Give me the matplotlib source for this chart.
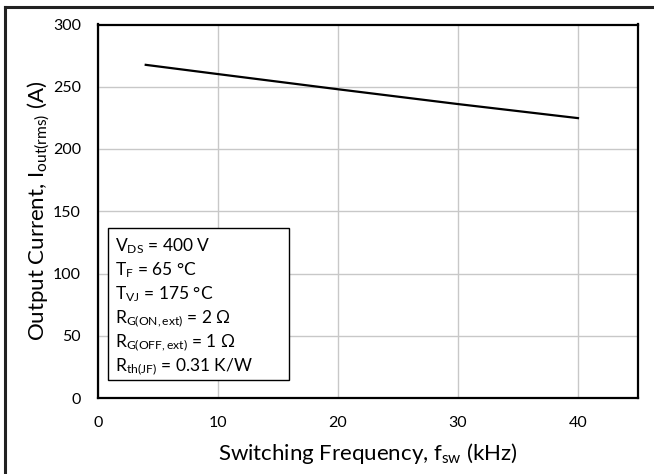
import matplotlib
matplotlib.use("Agg")
import matplotlib.pyplot as plt
from matplotlib.lines import Line2D
from matplotlib.patches import Rectangle

plt.rcParams['font.family'] = ['Lato', 'DejaVu Sans']
plt.rcParams['mathtext.fontset'] = 'custom'
plt.rcParams['mathtext.rm'] = 'Lato'
plt.rcParams['mathtext.it'] = 'Lato'
plt.rcParams['mathtext.default'] = 'rm'

freq_khz = [4, 10, 20, 30, 40]
current_a = [267.6, 260.2, 248, 236.1, 224.8]
x_ticks = [0, 10, 20, 30, 40]
y_ticks = [0, 50, 100, 150, 200, 250, 300]
conditions = [
    r"V$_{\mathrm{DS}}$ = 400 V",
    r"T$_{\mathrm{F}}$ = 65 °C",
    r"T$_{\mathrm{VJ}}$ = 175 °C",
    r"R$_{\mathrm{G(ON,ext)}}$ = 2 Ω",
    r"R$_{\mathrm{G(OFF,ext)}}$ = 1 Ω",
    r"R$_{\mathrm{th(JF)}}$ = 0.31 K/W",
]

W, H = 654, 474
AX_L, AX_R, AX_T, AX_B = 97.7, 638.0, 24.5, 398.0
fig = plt.figure(figsize=(W / 100, H / 100), dpi=100)
ax = fig.add_axes([AX_L / W, (H - AX_B) / H, (AX_R - AX_L) / W, (AX_B - AX_T) / H])
ax.plot(freq_khz, current_a, color='black', lw=1.6, zorder=3)
ax.set_xlim(0, 45)
ax.set_ylim(0, 300)
ax.set_xticks(x_ticks)
ax.set_yticks(y_ticks)
ax.grid(True, color='#c8c8c8', lw=1.0)
ax.set_axisbelow(True)
ax.tick_params(axis='x', length=0, labelsize=11.5, pad=13)
ax.tick_params(axis='y', length=0, labelsize=11.5, pad=12)
for s in ax.spines.values():
    s.set_linewidth(1.6)
    s.set_color('black')
ax.set_xlabel(r"Switching Frequency, f$_{\mathrm{sw}}$ (kHz)", fontsize=16, labelpad=8)
ax.set_ylabel(r"Output Current, I$_{\mathrm{out(rms)}}$ (A)", fontsize=16, labelpad=1)


def ax_x(px):
    return (px - AX_L) / (AX_R - AX_L)


def ax_y(py):
    return (AX_B - py) / (AX_B - AX_T)


ax.add_patch(Rectangle((ax_x(108), ax_y(380)), ax_x(289) - ax_x(108), ax_y(228) - ax_y(380),
                       transform=ax.transAxes, fc='white', ec='black', lw=1.0, zorder=5))
for i, line in enumerate(conditions):
    ax.text(ax_x(115), ax_y(251 + i * 24.2), line, transform=ax.transAxes,
            fontsize=12.5, va='baseline', ha='left', zorder=6)

fig.add_artist(Line2D([5.5 / W, 5.5 / W], [0, 1 - 7 / H], transform=fig.transFigure,
                      color='#222222', lw=2.2))
fig.add_artist(Line2D([5.5 / W, 1], [1 - 7 / H, 1 - 7 / H], transform=fig.transFigure,
                      color='#222222', lw=2.2))
fig.savefig("out.png", dpi=100)
